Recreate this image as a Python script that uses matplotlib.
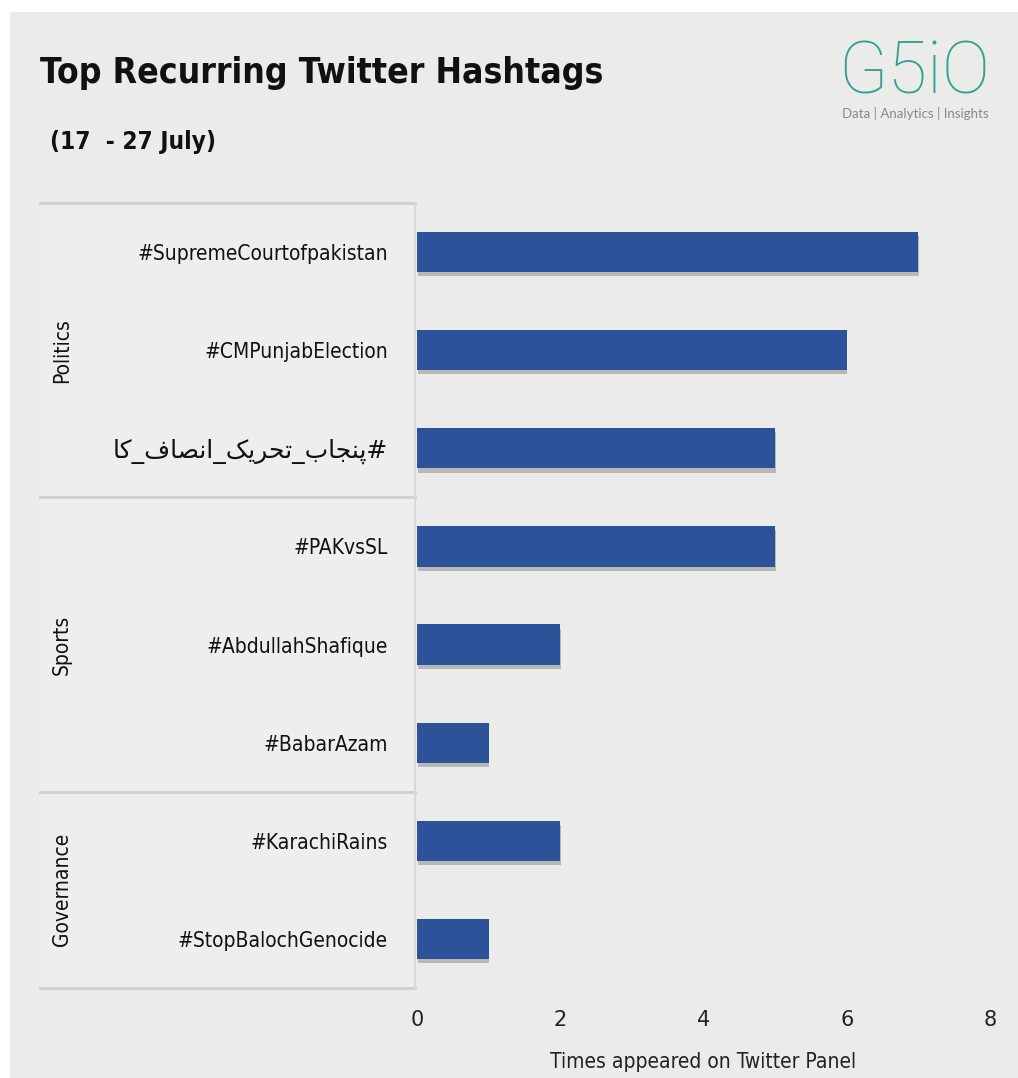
import matplotlib
matplotlib.use('Agg')
import matplotlib.pyplot as plt
import matplotlib.patheffects as pe
from matplotlib.patches import Rectangle

hashtags = ['#SupremeCourtofpakistan', '#CMPunjabElection', '#پنجاب_تحریک_انصاف_کا',
            '#PAKvsSL', '#AbdullahShafique', '#BabarAzam',
            '#KarachiRains', '#StopBalochGenocide']
counts = [7, 6, 5, 5, 2, 1, 2, 1]
groups = ['Politics', 'Sports', 'Governance']
group_sizes = [3, 3, 2]
xticks = [0, 2, 4, 6, 8]

bg = '#ebebe9'
bar_col = '#2c5399'

# matplotlib has no arabic shaping, so pick the presentation forms by hand
# letter: (isolated, final, initial, medial); two-form letters don't join left
forms = {
    'پ': ('\ufb56', '\ufb57', '\ufb58', '\ufb59'),
    'ن': ('\ufee5', '\ufee6', '\ufee7', '\ufee8'),
    'ج': ('\ufe9d', '\ufe9e', '\ufe9f', '\ufea0'),
    'ب': ('\ufe8f', '\ufe90', '\ufe91', '\ufe92'),
    'ت': ('\ufe95', '\ufe96', '\ufe97', '\ufe98'),
    'ح': ('\ufea1', '\ufea2', '\ufea3', '\ufea4'),
    'ی': ('\ufbfc', '\ufbfd', '\ufbfe', '\ufbff'),
    'ک': ('\ufb8e', '\ufb8f', '\ufb90', '\ufb91'),
    'ص': ('\ufeb9', '\ufeba', '\ufebb', '\ufebc'),
    'ف': ('\ufed1', '\ufed2', '\ufed3', '\ufed4'),
    'ا': ('\ufe8d', '\ufe8e'),
    'ر': ('\ufead', '\ufeae'),
}


def shape(s):
    if not any(ch in forms for ch in s):
        return s
    out = []
    for i, ch in enumerate(s):
        if ch not in forms:
            out.append(ch)
            continue
        prev = s[i - 1] if i > 0 else ''
        nxt = s[i + 1] if i + 1 < len(s) else ''
        jp = prev in forms and len(forms[prev]) == 4
        jn = nxt in forms and len(forms[ch]) == 4
        f = forms[ch]
        if jp and jn:
            out.append(f[3])
        elif jp:
            out.append(f[1])
        elif jn:
            out.append(f[2])
        else:
            out.append(f[0])
    return ''.join(out[::-1])


plt.rcParams['font.family'] = ['DejaVu Sans']

fig = plt.figure(figsize=(10.18, 10.78), dpi=100)
fig.patch.set_facecolor('white')
fig.add_artist(Rectangle((10 / 1018, 0), 1, 1 - 12 / 1078, transform=fig.transFigure,
                         facecolor=bg, edgecolor='none', zorder=-10))

ax = fig.add_axes([417 / 1018, 90 / 1078, 573 / 1018, 785 / 1078])
ax.set_facecolor('none')

ypos = list(range(len(hashtags)))
ax.barh(ypos, counts, height=0.41, color=bar_col, zorder=3,
        path_effects=[pe.SimplePatchShadow(offset=(0.5, -3), shadow_rgbFace='#444444', alpha=0.3),
                      pe.Normal()])
ax.set_ylim(len(hashtags) - 0.5, -0.5)
ax.set_xlim(0, 8)
ax.set_xticks(xticks)
ax.set_xticklabels([str(t) for t in xticks], fontsize=15, color='#222222')
ax.set_yticks(ypos)
ax.set_yticklabels([shape(h) for h in hashtags], fontsize=15, color='#111111',
                   fontstretch='condensed')
for lab, h in zip(ax.get_yticklabels(), hashtags):
    if shape(h) != h:
        lab.set_fontsize(18)
        lab.set_fontstretch('normal')
ax.tick_params(axis='y', length=0, pad=21)
ax.tick_params(axis='x', length=0, pad=16)
for s in ax.spines.values():
    s.set_visible(False)
ax.set_xlabel('Times appeared on Twitter Panel', fontsize=15, color='#222222',
              fontstretch='condensed', labelpad=16)

# left label table
tx0 = (40 - 417) / 573
tx1 = (415 - 417) / 573
trans = ax.get_yaxis_transform()
ax.add_patch(Rectangle((tx0, -0.5), tx1 - tx0, len(hashtags), transform=trans,
                       facecolor='#eeeeed', edgecolor='none', clip_on=False, zorder=0))
bounds = [-0.5]
for n in group_sizes:
    bounds.append(bounds[-1] + n)
for b in bounds:
    ax.plot([tx0, tx1], [b, b], transform=trans, color='#cfcfcf', lw=2, clip_on=False, zorder=1)
ax.plot([tx1, tx1], [-0.5, bounds[-1]], transform=trans, color='#d8d8d8', lw=1.5,
        clip_on=False, zorder=1)
for g, lo, hi in zip(groups, bounds[:-1], bounds[1:]):
    ax.text((62 - 417) / 573, (lo + hi) / 2, g, transform=trans, rotation=90,
            ha='center', va='center', fontsize=15, color='#111111', fontstretch='condensed')

# title and logo
fig.text(40 / 1018, 1 - 73 / 1078, 'Top Recurring Twitter Hashtags', fontsize=25.5,
         fontweight='bold', fontstretch='condensed', color='#111111', va='center')
fig.text(50 / 1018, 1 - 142 / 1078, '(17  - 27 July)', fontsize=17.5,
         fontweight='bold', fontstretch='condensed', color='#111111', va='center')
fig.text(914 / 1018, 1 - 74 / 1078, 'G5iO', family='Roboto', fontweight='light',
         fontsize=52, color='#35a096', ha='center', va='center')
fig.text(915 / 1018, 1 - 114 / 1078, 'Data | Analytics | Insights', family='Lato',
         fontsize=9.5, color='#888888', ha='center', va='center')

fig.savefig('out.png', dpi=100, facecolor=fig.get_facecolor())
